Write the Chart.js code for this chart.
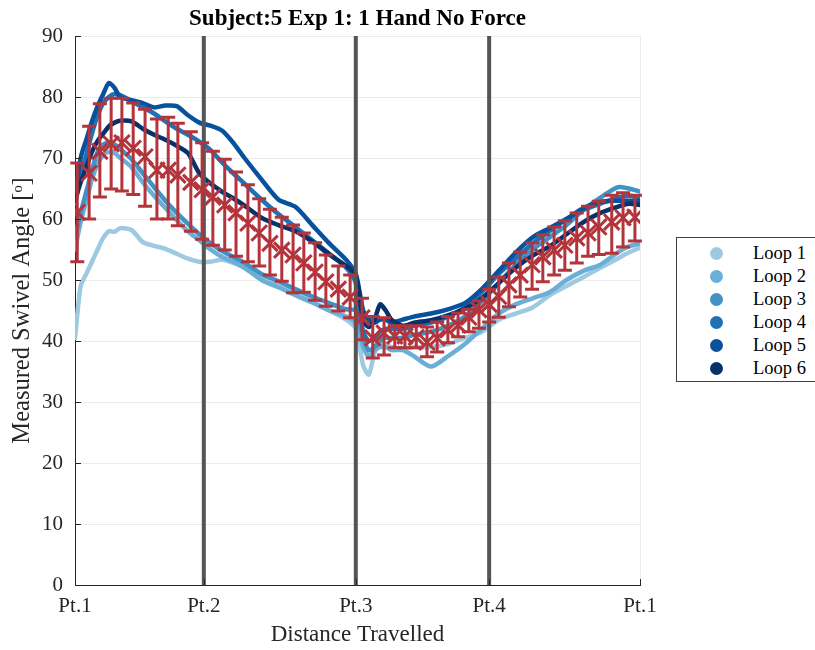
<!DOCTYPE html>
<html>
<head>
<meta charset="utf-8">
<script src="https://cdn.jsdelivr.net/npm/chart.js@4.4.1/dist/chart.umd.min.js"></script>
<style>
  html, body { margin: 0; padding: 0; background: #fff; overflow: hidden; }
  #wrap { position: relative; width: 815px; height: 650px; }
  #swivel { position: absolute; left: 0; top: 0; }
  #legend {
    position: absolute; left: 676px; top: 237px; width: 150px; height: 145px;
    border: 1px solid #404040; background: #fff; box-sizing: border-box;
    font-family: "Liberation Serif", "Times New Roman", serif; font-size: 18.5px; color: #000;
  }
  #legend .row { position: absolute; left: 0; height: 23px; line-height: 23px; white-space: nowrap; }
  #legend .dot { position: absolute; left: 33px; top: 5px; width: 13px; height: 13px; border-radius: 50%; }
  #legend .lbl { position: absolute; left: 76px; top: 0; }
</style>
</head>
<body>
<div id="wrap">
  <canvas id="swivel" width="715" height="650"></canvas>
  <div id="legend"></div>
</div>
<script>
// positions along the path (0 = Pt.1, 100 = back at Pt.1)
const tickPos = [0, 22.8, 49.7, 73.3, 100];
const tickLabels = ["Pt.1", "Pt.2", "Pt.3", "Pt.4", "Pt.1"];
const checkpoints = [22.8, 49.7, 73.3];

const loopNames = ["Loop 1", "Loop 2", "Loop 3", "Loop 4", "Loop 5", "Loop 6"];
const loopColors = ["#9ecae1", "#6baed6", "#4292c6", "#2171b5", "#08519c", "#08306b"];

const sampleX = [0, 1, 2, 3, 4, 5, 6, 7, 8, 10, 12, 14, 16, 18, 20, 22, 24, 26, 28, 30,
  33, 36, 39, 42, 45, 48, 49.7, 51, 52, 53, 54, 55, 56, 58, 60, 63, 66, 69, 72, 75,
  78, 81, 84, 87, 90, 93, 96, 98, 100];

const loop1 = [40.5, 49, 51, 53, 55, 56.9, 58, 57.9, 58.5, 58.2, 56.2, 55.6, 55.1, 54.3, 53.5, 53, 53, 53.3, 52.8, 52,
  50.5, 49, 47.8, 46.5, 45, 43.5, 42, 36, 34.5, 38, 39.5, 39.5, 39, 38.8, 39, 39, 39.5, 40.5, 41.5, 43.5,
  44.5, 45.5, 47.5, 49, 50.5, 52, 53.5, 54.5, 55.3];
const loop2 = [55, 59.5, 63, 66.5, 69, 70.5, 71, 70.8, 70, 68.5, 66, 63.8, 61.8, 59.8, 58, 56.5, 55, 53.8, 53, 52,
  50, 48.8, 47.5, 46.3, 45, 44, 43, 39, 37.5, 38.5, 39, 39, 38.5, 38.5, 37.5, 35.8, 37.5, 39.5, 42, 44.5,
  46, 47, 48, 50, 51.5, 52.5, 54.5, 55.5, 56];
const loop3 = [57, 61, 64.5, 68, 71, 72.2, 72.5, 72.2, 71.5, 69.8, 67.5, 65.2, 63, 61, 59.2, 57.5, 56, 54.8, 53.8, 52.8,
  51, 49.8, 48.5, 47.3, 46.2, 45.2, 45, 40.5, 38.5, 39, 40, 40.5, 40.5, 40.5, 41, 41.5, 42.5, 44, 46.5, 49.5,
  52.5, 55, 57, 59, 61.5, 63.5, 65.2, 65, 64.5];
const loop4 = [62.5, 67, 70.5, 74, 77, 79, 80, 80.5, 80.3, 79.3, 78.3, 77.3, 76, 74.8, 73.8, 72.7, 71.3, 69.3, 67.5, 65.8,
  63.2, 60.8, 58.7, 56.5, 54.3, 52, 49.5, 41.5, 40, 40.5, 41.5, 42, 42, 42, 42.5, 43, 44, 45.5, 48, 51,
  53.5, 56, 58, 60, 61.5, 62.5, 63.5, 63.8, 63.5];
const loop5 = [63.5, 70, 73, 76, 78.5, 80.5, 82.3, 81.5, 80, 79.5, 79, 78.3, 78.6, 78.5, 77, 75.8, 75.3, 74.5, 72.5, 70,
  66.5, 63.2, 62, 59, 56, 53.3, 51, 45, 43.5, 43, 43.5, 43.5, 43, 43.5, 44, 44.5, 45.2, 46.2, 48.5, 51.5,
  54.5, 57, 58.5, 60, 61.8, 62.8, 63, 63, 63];
const loop6 = [63, 66, 68.5, 71, 72.8, 74, 75.2, 75.8, 76.1, 76, 74.8, 73.8, 73, 72, 70.8, 67.5, 65.8, 64.5, 63.4, 62.2,
  60.2, 59, 58, 56.3, 54.2, 52.3, 50.8, 43.5, 42.3, 43.5, 46, 45, 43.5, 42.5, 43, 43.4, 44.2, 45.3, 47, 49.5,
  52, 54, 55.5, 57.5, 59.5, 61, 62, 62.5, 62.3];
const loops = [loop1, loop2, loop3, loop4, loop5, loop6];

// mean of the six loops with its spread
const meanX = [0.4, 2.5, 4.4, 6.4, 8.3, 10.3, 12.4, 14.5, 16.5, 18.2, 20.5, 22.5, 24.4, 26.5, 28.5, 30.6, 32.6,
  34.5, 36.6, 38.6, 40.5, 42.5, 44.4, 46.6, 48.7, 50.8, 52.7, 54.7, 56.6, 58.4, 60.4, 62.3, 64.1, 66,
  67.8, 69.7, 71.5, 73.3, 75, 76.8, 78.8, 80.9, 82.8, 84.8, 86.7, 88.8, 90.8, 92.7, 95, 97, 99.1];
const meanY = [61.1, 67.5, 71.1, 72.3, 72.5, 71.6, 70.2, 68, 68, 67.2, 66, 64.8, 63.6, 62.3, 61, 59.3, 57.7,
  56, 54.9, 54.1, 52.8, 51.3, 49.7, 48.5, 47.2, 43.8, 40.5, 41.3, 40.8, 40.8, 40.6, 39.8, 40.5, 41.8,
  42.6, 43.9, 45.1, 46, 47.3, 49.2, 50.8, 52.5, 53.8, 54.9, 55.7, 56.9, 57.7, 58.7, 59.5, 60.2, 60.3];
const upperY = [69.2, 75.2, 78.9, 79.8, 79.8, 79, 78, 76.4, 76.7, 75.7, 74.3, 72.5, 71.1, 69.8, 67.7, 65.6, 63.3,
  61.6, 60.3, 59, 57.7, 56.1, 54.1, 52.3, 50.8, 47, 44, 43.8, 42.5, 42.5, 42.5, 42.3, 43.1, 44,
  44.6, 45.2, 46.6, 48.5, 50.5, 52.8, 54.6, 56.1, 57.4, 58.7, 59.7, 61, 62.1, 62.9, 63.9, 64.3, 63.9];
const lowerY = [53, 60, 63.6, 64.9, 64.6, 64, 62.1, 60, 60, 58.9, 58, 56.7, 55.7, 54.9, 53.9, 53, 52.3,
  50.8, 49.8, 47.9, 48, 46.7, 45.7, 44.9, 43.8, 40.2, 37.2, 37.7, 38.9, 38.9, 38.9, 37.4, 38.2, 39.7,
  40.7, 41.5, 42.1, 43.1, 43.9, 45.6, 47.2, 48.5, 49.7, 50.8, 51.6, 52.8, 53.9, 54.2, 54.4, 55.4, 56.4];

const meanRed = "#b3343a";
const serif = "'Liberation Serif', 'Times New Roman', serif";

const datasets = [];

datasets.push({
  label: "mean",
  data: meanX.map((x, i) => ({ x: x, y: meanY[i] })),
  showLine: false,
  pointStyle: "crossRot",
  pointRadius: 11,
  pointBorderWidth: 3,
  pointBorderColor: meanRed,
  pointBackgroundColor: meanRed,
  order: 0
});

checkpoints.forEach((cx) => {
  datasets.push({
    label: "checkpoint",
    data: [{ x: cx, y: 0 }, { x: cx, y: 90 }],
    borderColor: "#555555",
    borderWidth: 4,
    pointRadius: 0,
    order: 1
  });
});

loops.forEach((vals, k) => {
  datasets.push({
    label: loopNames[k],
    data: sampleX.map((x, i) => ({ x: x, y: vals[i] })),
    borderColor: loopColors[k],
    backgroundColor: loopColors[k],
    borderWidth: 4.5,
    pointRadius: 0,
    tension: 0.25,
    borderCapStyle: "round",
    borderJoinStyle: "round",
    order: 8 - k
  });
});

// whiskers behind the mean markers
const errorBars = {
  id: "errorBars",
  beforeDatasetDraw(chart, args) {
    if (args.index !== 0) return;
    const xs = chart.scales.x, ys = chart.scales.y;
    const c = chart.ctx;
    c.save();
    c.strokeStyle = meanRed;
    c.lineWidth = 3;
    meanX.forEach((x, i) => {
      const px = xs.getPixelForValue(x);
      const top = ys.getPixelForValue(upperY[i]);
      const bot = ys.getPixelForValue(lowerY[i]);
      c.beginPath();
      c.moveTo(px, top); c.lineTo(px, bot);
      c.moveTo(px - 7, top); c.lineTo(px + 7, top);
      c.moveTo(px - 7, bot); c.lineTo(px + 7, bot);
      c.stroke();
    });
    c.restore();
  }
};

// small inward tick marks on the two axes
const innerTicks = {
  id: "innerTicks",
  afterDraw(chart) {
    const xs = chart.scales.x, ys = chart.scales.y;
    const a = chart.chartArea;
    const c = chart.ctx;
    c.save();
    c.strokeStyle = "#262626";
    c.lineWidth = 1;
    c.beginPath();
    ys.ticks.forEach((t) => {
      const py = Math.round(ys.getPixelForValue(t.value)) + 0.5;
      c.moveTo(a.left, py); c.lineTo(a.left + 6, py);
    });
    xs.ticks.forEach((t) => {
      const px = Math.round(xs.getPixelForValue(t.value)) + 0.5;
      c.moveTo(px, a.bottom); c.lineTo(px, a.bottom - 6);
    });
    c.stroke();
    c.restore();
  }
};

new Chart(document.getElementById("swivel").getContext("2d"), {
  type: "line",
  data: { datasets: datasets },
  options: {
    responsive: false,
    animation: false,
    devicePixelRatio: 1,
    layout: { padding: { left: 8, right: 75, top: 0, bottom: 0 } },
    plugins: {
      legend: { display: false },
      tooltip: { enabled: false },
      title: {
        display: true,
        fullSize: false,
        text: "Subject:5 Exp 1: 1 Hand No Force",
        color: "#000",
        font: { family: serif, size: 23, weight: "bold" },
        padding: { top: 5, bottom: 3.4 }
      }
    },
    scales: {
      x: {
        type: "linear",
        min: 0,
        max: 100,
        afterFit(scale) { scale.height = 65; },
        afterBuildTicks(scale) { scale.ticks = tickPos.map((v) => ({ value: v })); },
        grid: { color: "#ebebeb", drawTicks: false },
        border: { color: "#262626", width: 1 },
        ticks: {
          autoSkip: false,
          maxRotation: 0,
          padding: 9,
          color: "#262626",
          font: { family: serif, size: 21 },
          callback: (value, index) => tickLabels[index]
        },
        title: {
          display: true,
          text: "Distance Travelled",
          color: "#262626",
          font: { family: serif, size: 23 },
          padding: { top: 0, bottom: 1 }
        }
      },
      y: {
        min: 0,
        max: 90,
        afterFit(scale) { scale.width = 67; },
        grid: { color: "#ebebeb", drawTicks: false },
        border: { color: "#262626", width: 1 },
        ticks: {
          stepSize: 10,
          padding: 12,
          color: "#262626",
          font: { family: serif, size: 21 }
        },
        title: {
          display: true,
          text: "Measured Swivel Angle [ᵒ]",
          color: "#262626",
          font: { family: serif, size: 24.5 },
          padding: { top: 0, bottom: 0 }
        }
      }
    }
  },
  plugins: [errorBars, innerTicks]
});

// legend box
const legend = document.getElementById("legend");
loopNames.forEach((name, k) => {
  const row = document.createElement("div");
  row.className = "row";
  row.style.top = (4 + k * 23) + "px";
  row.style.width = "100%";
  const dot = document.createElement("span");
  dot.className = "dot";
  dot.style.background = loopColors[k];
  const lbl = document.createElement("span");
  lbl.className = "lbl";
  lbl.textContent = name;
  row.appendChild(dot);
  row.appendChild(lbl);
  legend.appendChild(row);
});
</script>
</body>
</html>
